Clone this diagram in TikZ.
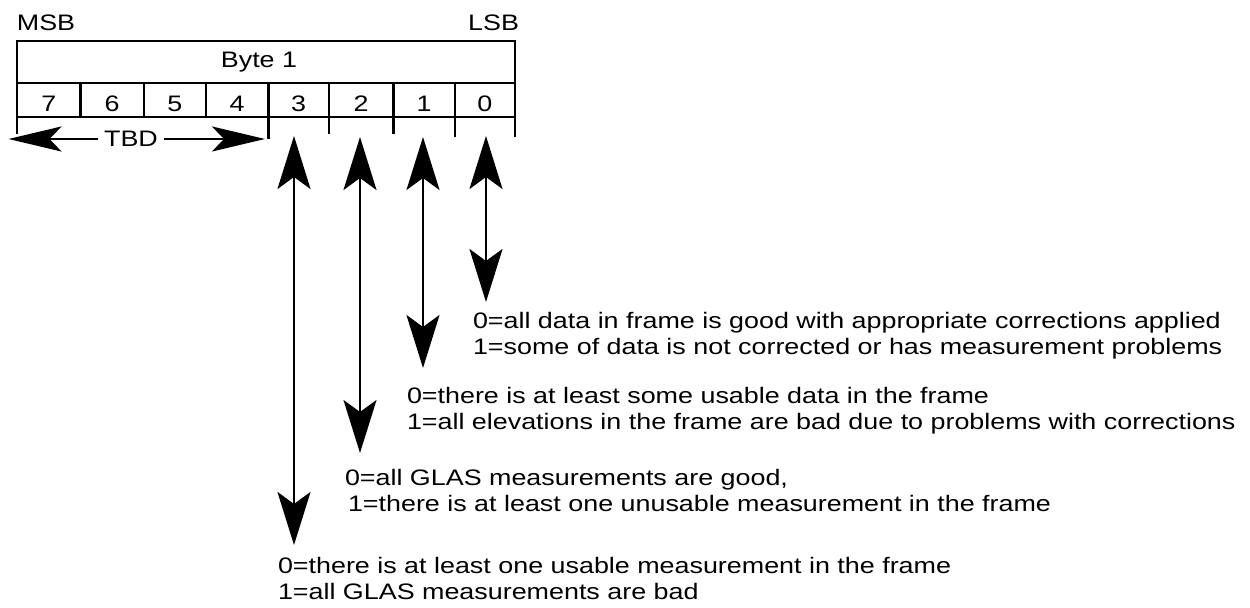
\documentclass[tikz,border=0pt]{standalone}
\usepackage{fontspec}
\setmainfont{Liberation Sans}[FakeStretch=1.2]
\usetikzlibrary{arrows.meta}

\begin{document}
\begin{tikzpicture}[x=0.5pt,y=-0.5pt,
  frame/.style={line width=1.1pt},
  lbl/.style={inner sep=0pt, outer sep=0pt, font=\fontsize{11.2}{13}\selectfont},
  % multi-line notes are placed by the baseline of their last line
  note/.style={lbl, anchor=base west, align=left},
  varrow/.style={line width=1.3pt, {Stealth[length=26.5pt,width=16.5pt,inset=6pt]}-{Stealth[length=26.5pt,width=16.5pt,inset=6pt]}},
  harrow/.style={line width=1.3pt, -{Stealth[length=26.5pt,width=12.5pt,inset=6pt]}},
]
\useasboundingbox (0,0) rectangle (1250,608);

% byte frame
\draw[frame] (17,41) rectangle (515,117);
\draw[frame] (17,83) -- (515,83);
\node[lbl, anchor=base] (msb) at (46,31) {MSB};
\node[lbl, anchor=base east] (lsb) at (519,31) {LSB};
\node[lbl, anchor=base] (byte) at (259,68) {Byte 1};

% bit cells: dividers with their ticks below the row
\draw[frame] (17,83) -- (17,134);
\draw[frame] (80.5,83) -- (80.5,117);
\draw[frame] (144,83) -- (144,117);
\draw[frame] (205.6,83) -- (205.6,117);
\draw[frame] (268.4,83) -- (268.4,139);
\draw[frame] (329,83) -- (329,134);
\draw[frame] (393.5,83) -- (393.5,134);
\draw[frame] (454.6,83) -- (454.6,137);
\draw[frame] (515,83) -- (515,137);

\node[lbl, anchor=base] (d7) at (48.8,112) {7};
\node[lbl, anchor=base] (d6) at (112.2,112) {6};
\node[lbl, anchor=base] (d5) at (174.8,112) {5};
\node[lbl, anchor=base] (d4) at (237,112) {4};
\node[lbl, anchor=base] (d3) at (298.7,112) {3};
\node[lbl, anchor=base] (d2) at (361.2,112) {2};
\node[lbl, anchor=base] (d1) at (424,112) {1};
\node[lbl, anchor=base] (d0) at (484.8,112) {0};

% reserved bits 7..4
\node[lbl, inner xsep=3pt] (tbd) at (131,139) {TBD};
\coordinate (tbdL) at (8.5,139);
\coordinate (tbdR) at (265,139);
\draw[harrow] (tbd) -- (tbdL);
\draw[harrow] (tbd) -- (tbdR);

% flag bits 3..0
\coordinate (b3t) at (294,136);  \coordinate (b3b) at (294,545);
\coordinate (b2t) at (360,137);  \coordinate (b2b) at (360,453);
\coordinate (b1t) at (423,137);  \coordinate (b1b) at (423,368);
\coordinate (b0t) at (486,136);  \coordinate (b0b) at (486,302);
\draw[varrow] (b3t) -- (b3b);
\draw[varrow] (b2t) -- (b2b);
\draw[varrow] (b1t) -- (b1b);
\draw[varrow] (b0t) -- (b0b);

\node[note] (n0) at (473,355) {0=all data in frame is good with appropriate corrections applied\\1=some of data is not corrected or has measurement problems};
\node[note] (n1) at (407,430) {0=there is at least some usable data in the frame\\1=all elevations in the frame are bad due to problems with corrections};
\node[note] (n2) at (345,512) {0=all GLAS measurements are good,\\\hspace*{1.5pt}1=there is at least one unusable measurement in the frame};
\node[note] (n3) at (278,600) {0=there is at least one usable measurement in the frame\\1=all GLAS measurements are bad};
\end{tikzpicture}
\end{document}
